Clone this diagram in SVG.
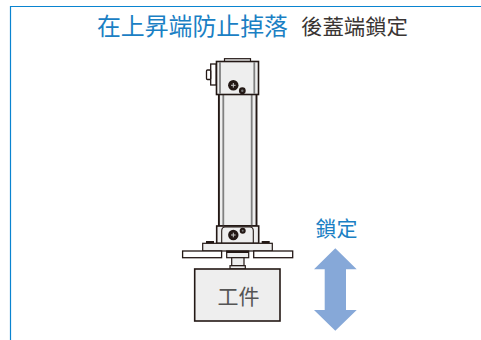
<svg xmlns="http://www.w3.org/2000/svg" width="481" height="340" viewBox="0 0 481 340">
<style>
text{font-family:"Noto Sans CJK TC","Noto Sans CJK JP",sans-serif;font-weight:400}
.blue{fill:#1a80c4}
.dark{fill:#3a3533}
.b{fill:#fff;stroke:#231815;stroke-width:1.3}
.g{fill:#eeeeee;stroke:#231815;stroke-width:1.6}
.w{fill:#eeeeee;stroke:#231815;stroke-width:1.2}
.gl{stroke:#808080;stroke-width:1.8;fill:none}
.k{fill:#231815}
</style>
<rect width="481" height="340" fill="#fff"/>
<path d="M481 6.5H10.5V340" fill="none" stroke="#0a84d0" stroke-width="1.2"/>
<g id="title">
<text class="blue" x="97" y="35" font-size="24" textLength="191" lengthAdjust="spacingAndGlyphs">在上昇端防止掉落</text>
<text class="dark" x="301" y="34" font-size="21" textLength="107" lengthAdjust="spacingAndGlyphs">後蓋端鎖定</text>
</g>
<g id="actuator">
<rect class="w" x="224.5" y="58.7" width="26" height="3"/>
<rect class="b" x="210.7" y="64" width="5.5" height="21"/>
<rect class="b" x="206.5" y="70" width="4.2" height="9.5" rx="1"/>
<rect x="218.9" y="94" width="37.6" height="132" fill="#eeeeee" stroke="#231815" stroke-width="1.9"/>
<path class="gl" d="M223.3 94V226M251.7 94V226"/>
<rect class="g" x="216.5" y="61.5" width="42" height="33"/>
<path class="gl" d="M220 62V94M254.3 62V94"/>
<circle class="k" cx="233.3" cy="85.3" r="5.2"/>
<path d="M231 85.3H235.6M233.3 83V87.6" stroke="#ccc" stroke-width="1"/>
<circle class="k" cx="242.3" cy="90.7" r="3.4"/>
<circle cx="242.3" cy="90.7" r="1.2" fill="#777"/>
<rect class="g" x="216.7" y="226" width="42" height="17.3"/>
<path d="M221.7 243V231Q221.7 227 225 227H250Q253.3 227 253.3 231V243" fill="none" stroke="#231815" stroke-width="1.1"/>
<circle class="k" cx="233.3" cy="235" r="5.2"/>
<path d="M231 235H235.6M233.3 232.7V237.3" stroke="#ccc" stroke-width="1"/>
<circle class="k" cx="242.7" cy="230.7" r="3"/>
<circle cx="242.7" cy="230.7" r="1" fill="#777"/>
<rect class="k" x="206" y="241" width="8" height="2.8"/>
<rect class="k" x="261.7" y="241" width="8" height="2.8"/>
<rect class="w" x="202.7" y="243.3" width="69.6" height="7.7"/>
</g>
<g id="plates">
<rect class="b" x="182.6" y="251" width="39" height="6.7"/>
<rect class="b" x="253.7" y="251" width="39" height="6.7"/>
<rect class="w" x="226.7" y="251" width="22" height="6.7"/>
<rect class="k" x="226.7" y="251" width="22" height="2"/>
<rect class="w" x="231.7" y="257.7" width="12.3" height="8"/>
<rect class="w" x="230" y="265.7" width="15.3" height="3.3"/>
</g>
<g id="workpiece">
<rect x="194.7" y="269" width="85.3" height="52" fill="#eeeeee" stroke="#231815" stroke-width="1.6"/>
<text x="238.5" y="304" font-size="21" text-anchor="middle" fill="#555">工件</text>
</g>
<g id="lock">
<text class="blue" x="336.5" y="236" font-size="21" text-anchor="middle">鎖定</text>
<path d="M335.3 248.3L356.7 269.3H346V310H356.7L335.3 330.7L314 310H324.7V269.3H314Z" fill="#86a8d8"/>
</g>
</svg>
